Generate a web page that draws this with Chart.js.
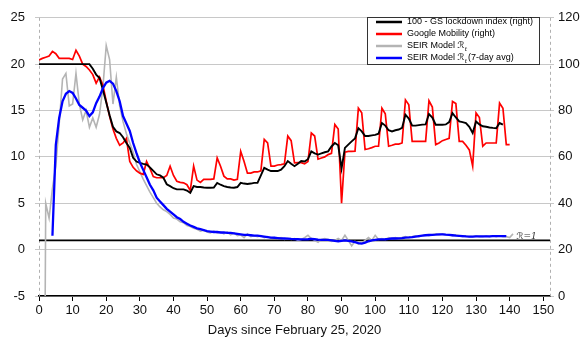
<!DOCTYPE html>
<html>
<head>
<meta charset="utf-8">
<script src="https://cdn.jsdelivr.net/npm/chart.js@4/dist/chart.umd.min.js"></script>
<style>
  html, body { margin: 0; padding: 0; background: #fff; }
  #wrap { width: 583px; height: 345px; }
</style>
</head>
<body>
<div id="wrap"><canvas id="rtChart"></canvas></div>
<script>
// days since Feb 25, 2020 -- each series starts at its own day
const mobilityStart = 0;
const mobility = [101.8, 102.5, 103, 103.5, 105.5, 104.5, 102.5, 102.5, 102.5, 102.5,
  102, 106, 103.5, 100, 99, 97.5, 95.5, 91.8, 94.5, 91,
  84, 77.5, 72, 68, 65, 66, 68, 58, 55.5, 54,
  53, 52.5, 58, 55, 51.5, 51, 51, 51, 52, 56,
  52, 49.5, 49, 48.8, 48, 45.5, 56, 50, 49, 50.3,
  50.3, 50.3, 50.5, 59.6, 56, 51.7, 50.5, 50.5, 50, 50.3,
  62.4, 58, 53, 53, 53.5, 53.5, 54, 67.5, 66, 56,
  56, 56.5, 56.7, 57, 69, 67, 57.4, 57.5, 57.5, 57,
  58, 70.3, 69, 59, 59.5, 60, 61, 61.5, 74, 72,
  40, 62, 62.4, 62.4, 62.5, 81, 79, 63.2, 63.5, 64,
  64.6, 64.6, 81, 78.6, 64.6, 65, 65.5, 65.5, 66, 84.6,
  82.5, 66.7, 66.7, 66.7, 66.7, 66.7, 84.2, 81.5, 65.3, 66,
  67, 67.5, 68, 83.9, 83, 66.7, 66.7, 65, 63, 56,
  79, 77, 64.6, 66, 66, 66, 66, 83.2, 81, 65.3, 65.3];

const lockdownStart = 0;
const lockdown = [100, 100, 100, 100, 100, 100, 100, 100, 100, 100,
  100, 100, 100, 100, 100, 100, 98, 95.5, 94, 89,
  83.5, 78, 73, 71, 70.3, 68.5, 66, 63.9, 59.6, 58,
  57.4, 57, 56.7, 55.5, 54, 52.5, 52, 51, 48.2, 47.4,
  46.5, 46, 46, 46, 45.5, 44.5, 47.4, 47, 47, 46.8,
  46.7, 46.7, 46.8, 48.8, 48, 47.4, 47, 46.8, 46.7, 47,
  48.8, 48.5, 48.3, 48.5, 48.8, 48.8, 52, 55.3, 54.5, 53.9,
  53.9, 53.9, 54.5, 56, 58.2, 57, 56, 57, 58.2, 58,
  59, 62.4, 61.5, 61, 61.5, 62, 62.4, 64.5, 66, 65,
  55, 63.9, 65.3, 66.7, 68, 72.4, 71, 69, 69, 69.3,
  69.5, 70, 74.6, 73.5, 71.5, 71, 71.5, 71.8, 72.5, 78.2,
  76.5, 73.5, 73.5, 73.7, 73.9, 74, 78.5, 77, 73.9, 73.9,
  73.9, 74, 75, 78.9, 77, 75.3, 75, 74.6, 73, 70.3,
  75.3, 74, 73.2, 73, 72.7, 72.5, 72.4, 74.6, 73.9];

const seirStart = 1;
const seir = [-60, 5, 3.4, 6.6, 9, 13.5, 18.4, 19, 15.5, 15.7,
  19, 15.7, 14, 15, 13.2, 14.2, 13.2, 14.6, 17.5, 22,
  20.5, 15.7, 18.6, 15.5, 13.8, 12.5, 11.5, 10.5, 9.2, 8.4,
  7.6, 6.9, 6.2, 5.6, 5.0, 4.6, 4.3, 4.1, 3.8, 3.4,
  3.3, 3.0, 2.9, 2.6, 2.5, 2.3, 2.2, 2.0, 2.1, 1.9,
  1.8, 2.0, 1.8, 1.9, 1.7, 1.9, 1.6, 1.8, 1.5, 1.6,
  1.3, 1.7, 1.4, 1.5, 1.4, 1.5, 1.3, 1.4, 1.2, 1.3,
  1.2, 1.3, 1.1, 1.2, 1.1, 1.2, 1.0, 1.1, 1.3, 1.55,
  1.2, 1.0, 0.8, 1.1, 1.2, 1.1, 0.9, 1.0, 1.2, 1.0,
  1.55, 1.0, 0.4, 0.9, 0.6, 0.7, 1.0, 1.3, 1.0, 1.55,
  1.1, 1.2, 1.1, 1.3, 1.2, 1.3, 1.2, 1.3, 1.4, 1.3,
  1.4, 1.5, 1.4, 1.5, 1.6, 1.5, 1.6, 1.7, 1.6, 1.7,
  1.6, 1.6, 1.5, 1.6, 1.5, 1.4, 1.5, 1.4, 1.4, 1.5,
  1.4, 1.4, 1.5, 1.4, 1.5, 1.4, 1.5, 1.4, 1.4, 1.3,
  1.7];

const seirAvgStart = 4;
const seirAvg = [1.5, 11.3, 14.2, 16, 16.8, 17.1, 16.9, 16.3, 15.6, 15.3,
  15.0, 14.4, 14.8, 15.8, 16.5, 17.4, 18.0, 18.2, 17.9, 17.1,
  16.0, 14.4, 13.6, 12.8, 11.5, 10.4, 9.4, 8.6, 7.8, 7.0,
  6.4, 5.6, 5.2, 4.8, 4.4, 4.1, 3.8, 3.5, 3.3, 3.0,
  2.8, 2.6, 2.45, 2.3, 2.2, 2.1, 2.0, 1.95, 1.9, 1.9,
  1.85, 1.85, 1.8, 1.8, 1.75, 1.7, 1.65, 1.6, 1.6, 1.55,
  1.5, 1.5, 1.45, 1.4, 1.35, 1.3, 1.28, 1.25, 1.22, 1.2,
  1.18, 1.15, 1.13, 1.12, 1.1, 1.1, 1.12, 1.15, 1.12, 1.08,
  1.05, 1.05, 1.05, 1.0, 0.95, 0.9, 0.95, 1.0, 0.95, 0.9,
  0.8, 0.7, 0.65, 0.75, 0.9, 1.0, 1.05, 1.1, 1.1, 1.12,
  1.15, 1.2, 1.2, 1.22, 1.25, 1.3, 1.32, 1.35, 1.4, 1.45,
  1.5, 1.55, 1.58, 1.6, 1.62, 1.65, 1.65, 1.62, 1.6, 1.55,
  1.5, 1.48, 1.45, 1.42, 1.4, 1.4, 1.42, 1.42, 1.42, 1.42,
  1.43, 1.45, 1.45, 1.45, 1.45, 1.45];

const rThreshold = 1;
const xMin = 0, xMax = 152;
const xTicks = [0, 10, 20, 30, 40, 50, 60, 70, 80, 90, 100, 110, 120, 130, 140, 150];
const leftTicks = [-5, 0, 5, 10, 15, 20, 25];
const rightTicks = [0, 20, 40, 60, 80, 100, 120];

const legendItems = [
  { text: '100 - GS lockdown index (right)', color: '#000000' },
  { text: 'Google Mobility (right)', color: '#ff0000' },
  { text: 'SEIR Model ', sub: 't', color: '#b4b4b4' },
  { text: 'SEIR Model ', sub: 't', after: '(7-day avg)', color: '#0000ff' }
];

function toPoints(arr, start) {
  return arr.map((v, i) => ({ x: start + i, y: v }));
}

const fontFam = '"Liberation Sans", Arial, sans-serif';
const scriptFont = '"DejaVu Serif", "DejaVu Sans", serif';

// dashed side borders under the data
const framePlugin = {
  id: 'frame',
  beforeDatasetsDraw(chart) {
    const { ctx, chartArea: a } = chart;
    ctx.save();
    ctx.strokeStyle = '#b0b0b0';
    ctx.lineWidth = 1;
    ctx.setLineDash([3, 3]);
    [a.left, a.right].forEach(px => {
      ctx.beginPath();
      ctx.moveTo(Math.round(px) + 0.5, a.top);
      ctx.lineTo(Math.round(px) + 0.5, a.bottom);
      ctx.stroke();
    });
    ctx.restore();
  }
};

// legend box + the R=1 label, drawn inside the plot
const overlayPlugin = {
  id: 'overlay',
  afterDraw(chart) {
    const ctx = chart.ctx;
    const x = chart.scales.x, y = chart.scales.y;
    ctx.save();
    ctx.font = 'italic 9px ' + scriptFont;
    ctx.fillStyle = '#333';
    ctx.textBaseline = 'alphabetic';
    ctx.fillText('\u211B=1', x.getPixelForValue(142), y.getPixelForValue(rThreshold) - 1);

    const bx = 367, by = 17, bw = 172, bh = 47;
    ctx.fillStyle = '#fff';
    ctx.fillRect(bx, by, bw, bh);
    ctx.strokeStyle = '#333';
    ctx.lineWidth = 1;
    ctx.strokeRect(bx + 0.5, by + 0.5, bw, bh);
    ctx.textBaseline = 'middle';
    legendItems.forEach((it, i) => {
      const ry = by + 5 + i * 12;
      ctx.strokeStyle = it.color;
      ctx.lineWidth = 2.5;
      ctx.beginPath();
      ctx.moveTo(bx + 9, ry);
      ctx.lineTo(bx + 35, ry);
      ctx.stroke();
      ctx.fillStyle = '#000';
      ctx.font = '9px ' + fontFam;
      let tx = bx + 40;
      ctx.fillText(it.text, tx, ry);
      tx += ctx.measureText(it.text).width;
      if (it.sub) {
        ctx.font = 'italic 9px ' + scriptFont;
        ctx.fillText('\u211B', tx, ry);
        tx += ctx.measureText('\u211B').width;
        ctx.font = 'italic 6px ' + scriptFont;
        ctx.fillText(it.sub, tx, ry + 3);
        tx += ctx.measureText(it.sub).width + 1;
      }
      if (it.after) {
        ctx.font = '9px ' + fontFam;
        ctx.fillText(it.after, tx, ry);
      }
    });
    ctx.restore();
  }
};

new Chart(document.getElementById('rtChart'), {
  type: 'line',
  data: {
    datasets: [
      {
        label: 'SEIR Model Rt (7-day avg)',
        data: toPoints(seirAvg, seirAvgStart),
        yAxisID: 'y',
        borderColor: '#0000ff',
        borderWidth: 2.3,
        order: 0
      },
      {
        label: '100 - GS lockdown index (right)',
        data: toPoints(lockdown, lockdownStart),
        yAxisID: 'y2',
        borderColor: '#000000',
        borderWidth: 1.9,
        order: 1
      },
      {
        label: 'Google Mobility (right)',
        data: toPoints(mobility, mobilityStart),
        yAxisID: 'y2',
        borderColor: '#ff0000',
        borderWidth: 1.7,
        order: 2
      },
      {
        label: 'SEIR Model Rt',
        data: toPoints(seir, seirStart),
        yAxisID: 'y',
        borderColor: '#b4b4b4',
        borderWidth: 1.6,
        order: 3
      },
      {
        label: 'R=1',
        data: [{ x: xMin, y: rThreshold }, { x: xMax, y: rThreshold }],
        yAxisID: 'y',
        borderColor: '#000000',
        borderWidth: 1.9,
        order: 4
      }
    ]
  },
  options: {
    responsive: true,
    maintainAspectRatio: false,
    animation: false,
    layout: { padding: { top: 16, left: 0, right: 0, bottom: 7 } },
    elements: {
      point: { radius: 0 },
      line: { tension: 0, fill: false }
    },
    plugins: {
      legend: { display: false },
      tooltip: { enabled: false }
    },
    scales: {
      x: {
        type: 'linear',
        min: xMin,
        max: xMax,
        afterBuildTicks: s => { s.ticks = xTicks.map(v => ({ value: v })); },
        afterFit: s => { s.height = 42; },
        grid: { drawOnChartArea: false, color: '#000', tickLength: 5 },
        border: { color: '#000', width: 1.5 },
        ticks: { color: '#111', font: { family: fontFam, size: 13 }, padding: 2, maxRotation: 0 },
        title: {
          display: true,
          text: 'Days since February 25, 2020',
          color: '#111',
          font: { family: fontFam, size: 13 },
          padding: { top: 2, bottom: 0 }
        }
      },
      y: {
        position: 'left',
        min: -5,
        max: 25,
        afterBuildTicks: s => { s.ticks = leftTicks.map(v => ({ value: v })); },
        afterFit: s => { s.width = 39; },
        grid: { color: '#c8c8c8', tickLength: 4 },
        border: { display: false },
        ticks: { color: '#111', font: { family: fontFam, size: 13 }, padding: 10 }
      },
      y2: {
        position: 'right',
        min: 0,
        max: 120,
        afterBuildTicks: s => { s.ticks = rightTicks.map(v => ({ value: v })); },
        afterFit: s => { s.width = 33; },
        grid: { drawOnChartArea: false, color: '#c8c8c8', tickLength: 4 },
        border: { display: false },
        ticks: { color: '#111', font: { family: fontFam, size: 13 }, padding: 4 }
      }
    }
  },
  plugins: [framePlugin, overlayPlugin]
});
</script>
</body>
</html>
